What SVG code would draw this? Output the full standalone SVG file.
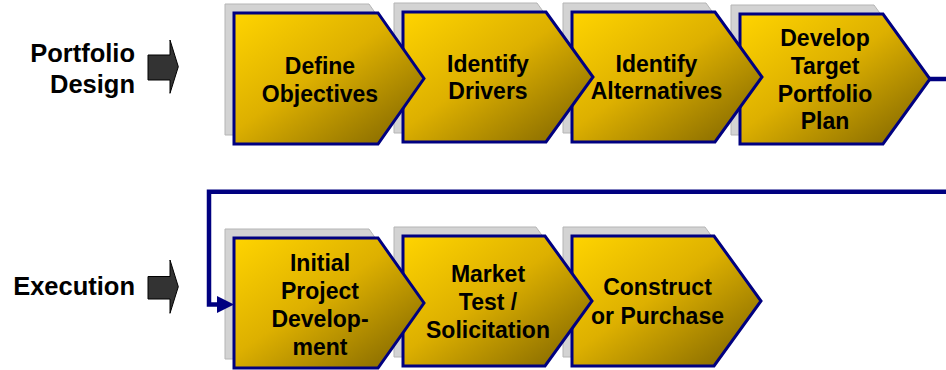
<svg xmlns="http://www.w3.org/2000/svg" width="946" height="370" viewBox="0 0 946 370">
  <defs>
    <linearGradient id="gold" x1="0" y1="0" x2="1" y2="1">
      <stop offset="0" stop-color="#FFD400"/>
      <stop offset="0.45" stop-color="#DDB000"/>
      <stop offset="1" stop-color="#7A6000"/>
    </linearGradient>
    <marker id="arrow" markerUnits="userSpaceOnUse" markerWidth="18" markerHeight="18" refX="3" refY="8.5" orient="auto">
      <path d="M0,0 L17,8.5 L0,17 Z" fill="#000080"/>
    </marker>
    <style>
      .shadow { fill: #D3D3D3; stroke: #B5B5B5; stroke-width: 1; }
      .chev { fill: url(#gold); stroke: #000080; stroke-width: 3; stroke-linejoin: miter; }
      .t { font-family: "Liberation Sans", Arial, sans-serif; font-weight: bold; font-size: 23px; fill: #000; text-anchor: middle; }
      .lbl { font-family: "Liberation Sans", Arial, sans-serif; font-weight: bold; font-size: 25.5px; fill: #000; text-anchor: end; }
      .blk { fill: #333333; stroke: #000; stroke-width: 1; }
      .conn { fill: none; stroke: #000080; stroke-width: 4.5; }
    </style>
  </defs>

  <g id="label-portfolio-design">
    <text class="lbl" x="135" y="62.3">Portfolio</text>
    <text class="lbl" x="135" y="92.7">Design</text>
    <polygon class="blk" points="148,55 170,55 170,40 178.3,66.7 170,93.3 170,80 148,80"/>
  </g>
  <g id="label-execution">
    <text class="lbl" x="135" y="295">Execution</text>
    <polygon class="blk" points="148,276.5 170,276.5 170,260 178.3,286.7 170,313.3 170,299 148,299"/>
  </g>

  <!-- top row, drawn right to left so earlier steps overlap later ones -->
  <g id="develop-target-portfolio-plan">
    <path class="shadow" d="M731,5 H874 L921,70 L874,135 H731 Z"/>
    <path class="chev" d="M740,14 H883 L930,79 L883,144 H740 Z"/>
    <text class="t" x="825" y="45.7">Develop</text>
    <text class="t" x="825" y="73.5">Target</text>
    <text class="t" x="825" y="101.5">Portfolio</text>
    <text class="t" x="825" y="129.2">Plan</text>
  </g>
  <g id="identify-alternatives">
    <path class="shadow" d="M563,3 H706 L753,68 L706,133 H563 Z"/>
    <path class="chev" d="M572,12 H715 L762,77 L715,142 H572 Z"/>
    <text class="t" x="656.5" y="71.7">Identify</text>
    <text class="t" x="656.5" y="99.3">Alternatives</text>
  </g>
  <g id="identify-drivers">
    <path class="shadow" d="M394,3 H537 L584,68 L537,133 H394 Z"/>
    <path class="chev" d="M403,12 H546 L593,77 L546,142 H403 Z"/>
    <text class="t" x="488" y="71.7">Identify</text>
    <text class="t" x="488" y="99.3">Drivers</text>
  </g>
  <g id="define-objectives">
    <path class="shadow" d="M225,4 H369 L415,69.5 L369,135 H225 Z"/>
    <path class="chev" d="M234,13 H378 L424,78.5 L378,144 H234 Z"/>
    <text class="t" x="320" y="74">Define</text>
    <text class="t" x="320" y="101.7">Objectives</text>
  </g>

  <!-- bottom row -->
  <g id="construct-or-purchase">
    <path class="shadow" d="M563,227 H705 L752,292 L705,357 H563 Z"/>
    <path class="chev" d="M572,236 H714 L761,301 L714,366 H572 Z"/>
    <text class="t" x="657.5" y="295">Construct</text>
    <text class="t" x="657.5" y="324">or Purchase</text>
  </g>
  <g id="market-test-solicitation">
    <path class="shadow" d="M394,227 H536 L583,292 L536,357 H394 Z"/>
    <path class="chev" d="M403,236 H545 L592,301 L545,366 H403 Z"/>
    <text class="t" x="488" y="281.7">Market</text>
    <text class="t" x="488" y="310">Test /</text>
    <text class="t" x="488" y="338.3">Solicitation</text>
  </g>
  <g id="initial-project-development">
    <path class="shadow" d="M225,229 H369 L415,294 L369,359 H225 Z"/>
    <path class="chev" d="M234,238 H378 L424,303 L378,368 H234 Z"/>
    <text class="t" x="320" y="270.7">Initial</text>
    <text class="t" x="320" y="298.5">Project</text>
    <text class="t" x="320" y="326.7">Develop-</text>
    <text class="t" x="320" y="355">ment</text>
  </g>

  <g id="connectors">
    <path class="conn" d="M929,79 H946"/>
    <path class="conn" d="M946,191.7 H209 V304.5 H220" marker-end="url(#arrow)"/>
  </g>
</svg>
